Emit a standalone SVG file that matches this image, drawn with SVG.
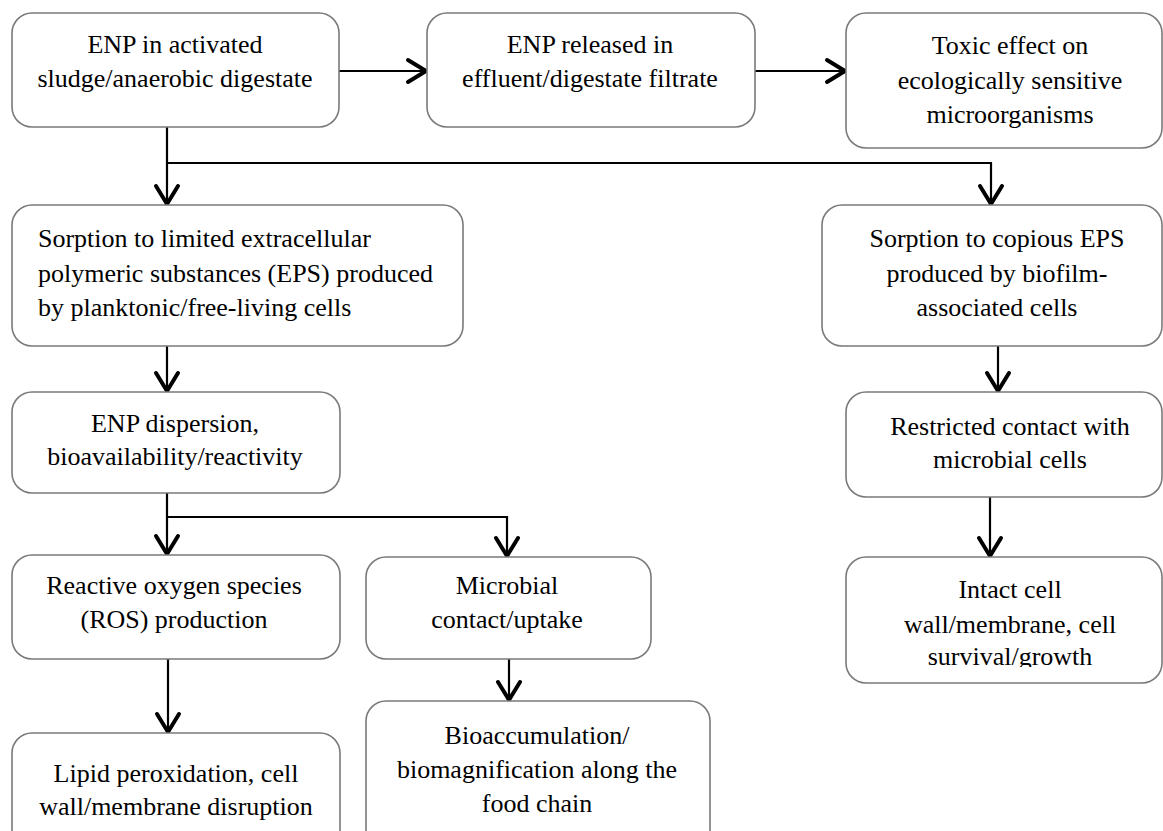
<svg xmlns="http://www.w3.org/2000/svg" width="1163" height="831" viewBox="0 0 1163 831">
<style>
.box{fill:#fff;stroke:#7a7a7a;stroke-width:1.6}
text{font-family:'Liberation Serif','Times New Roman',serif;font-size:26px;fill:#000;text-anchor:middle}
.tl{text-anchor:start}
.c{fill:none;stroke:#000;stroke-width:2.2}
</style>
<defs>
<marker id="ah" viewBox="-22 -14 26 28" refX="1" refY="0" markerWidth="26" markerHeight="28" markerUnits="userSpaceOnUse" orient="auto" overflow="visible">
<path d="M-18,-11 L0,0 L-18,11" fill="none" stroke="#000" stroke-width="4" stroke-linejoin="round" stroke-linecap="round"/>
</marker>
<clipPath id="clip8"><rect x="846" y="557" width="320" height="110"/></clipPath>
</defs>
<rect width="1163" height="831" fill="#fff"/>
<g id="connectors">
<path class="c" d="M339,71 H427" marker-end="url(#ah)"/>
<path class="c" d="M755,71 H846" marker-end="url(#ah)"/>
<path class="c" d="M167,127 V205" marker-end="url(#ah)"/>
<path class="c" d="M167,163 H991 V205" marker-end="url(#ah)"/>
<path class="c" d="M167,346 V392" marker-end="url(#ah)"/>
<path class="c" d="M998,346 V392" marker-end="url(#ah)"/>
<path class="c" d="M167,493 V555" marker-end="url(#ah)"/>
<path class="c" d="M167,517 H507 V557" marker-end="url(#ah)"/>
<path class="c" d="M990,497 V557" marker-end="url(#ah)"/>
<path class="c" d="M168,659 V733" marker-end="url(#ah)"/>
<path class="c" d="M509,659 V701" marker-end="url(#ah)"/>
</g>
<g id="n1"><rect class="box" x="12" y="13" width="327" height="114" rx="20"/>
<text x="175" y="53">ENP in activated</text><text x="175" y="87">sludge/anaerobic digestate</text></g>
<g id="n2"><rect class="box" x="427" y="13" width="328" height="114" rx="20"/>
<text x="590" y="53">ENP released in</text><text x="590" y="87">effluent/digestate filtrate</text></g>
<g id="n3"><rect class="box" x="846" y="13" width="316" height="135" rx="20"/>
<text x="1010" y="54">Toxic effect on</text><text x="1010" y="89">ecologically sensitive</text><text x="1010" y="123">microorganisms</text></g>
<g id="n4"><rect class="box" x="12" y="205" width="451" height="141" rx="20"/>
<text class="tl" x="38" y="247">Sorption to limited extracellular</text><text class="tl" x="38" y="282">polymeric substances (EPS) produced</text><text class="tl" x="38" y="316">by planktonic/free-living cells</text></g>
<g id="n5"><rect class="box" x="822" y="205" width="340" height="141" rx="20"/>
<text x="997" y="247">Sorption to copious EPS</text><text x="997" y="282">produced by biofilm-</text><text x="997" y="316">associated cells</text></g>
<g id="n6"><rect class="box" x="12" y="392" width="328" height="101" rx="20"/>
<text x="175" y="432">ENP dispersion,</text><text x="175" y="465">bioavailability/reactivity</text></g>
<g id="n7"><rect class="box" x="846" y="392" width="316" height="105" rx="20"/>
<text x="1010" y="435">Restricted contact with</text><text x="1010" y="468">microbial cells</text></g>
<g id="n8"><rect class="box" x="846" y="557" width="316" height="126" rx="20"/>
<g clip-path="url(#clip8)"><text x="1010" y="598">Intact cell</text><text x="1010" y="633">wall/membrane, cell</text><text x="1010" y="665">survival/growth</text></g></g>
<g id="n9"><rect class="box" x="12" y="555" width="328" height="104" rx="20"/>
<text x="174" y="594">Reactive oxygen species</text><text x="174" y="628">(ROS) production</text></g>
<g id="n10"><rect class="box" x="366" y="557" width="285" height="102" rx="20"/>
<text x="507" y="594">Microbial</text><text x="507" y="628">contact/uptake</text></g>
<g id="n11"><rect class="box" x="12" y="733" width="328" height="120" rx="20"/>
<text x="176" y="782">Lipid peroxidation, cell</text><text x="176" y="815">wall/membrane disruption</text></g>
<g id="n12"><rect class="box" x="366" y="701" width="344" height="150" rx="20"/>
<text x="537" y="744">Bioaccumulation/</text><text x="537" y="778">biomagnification along the</text><text x="537" y="812">food chain</text></g>
</svg>
